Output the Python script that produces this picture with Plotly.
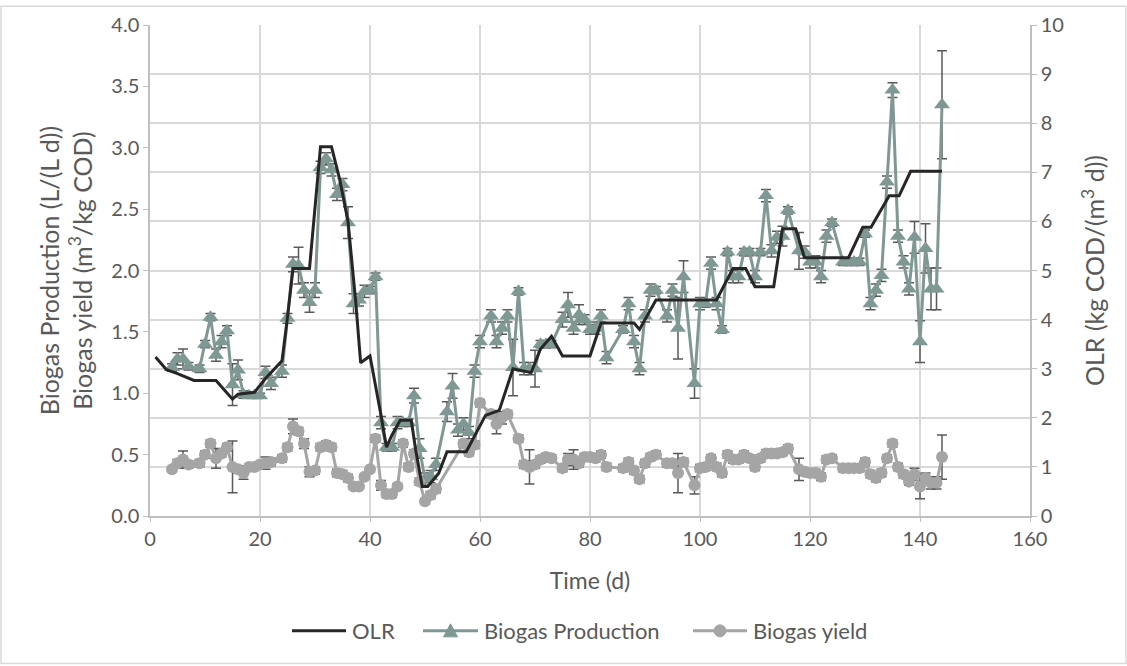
import plotly.graph_objects as go

# ---------------- data ----------------
olr_days = [1, 3, 5, 8, 12, 15, 16, 19, 21, 24, 25, 26, 29, 31, 33, 34.5, 36, 37.4, 38.3, 40,
            42, 43, 44, 45.5, 47.5, 48.3, 49.5, 50.5, 52.5, 54, 57.5, 61, 63.5, 66, 69.3, 71,
            73, 75, 80, 82, 88, 89, 92, 103, 106, 108.3, 110, 113.4, 115, 117.4, 119, 127,
            129.6, 131.1, 134.4, 136.2, 138.3, 144]
olr_vals = [3.24, 2.98, 2.90, 2.76, 2.76, 2.38, 2.48, 2.52, 2.80, 3.16, 4.05, 5.04, 5.04, 7.52,
            7.52, 6.85, 6.00, 4.37, 3.12, 3.26, 2.05, 1.40, 1.65, 1.95, 1.95, 1.35, 0.60, 0.60,
            0.87, 1.31, 1.31, 2.05, 2.15, 3.00, 2.92, 3.40, 3.66, 3.26, 3.26, 3.93, 3.93, 3.80,
            4.40, 4.40, 5.04, 5.04, 4.67, 4.67, 5.85, 5.85, 5.26, 5.26, 5.88, 5.88, 6.52, 6.52,
            7.02, 7.02]

prod_days = [4, 5, 6, 7, 9, 10, 11, 12, 13, 14, 15, 16, 17, 18, 19, 20, 21, 22, 24, 25, 26, 27,
             28, 29, 30, 31, 32, 33, 34, 35, 36, 37, 38, 39, 40, 41, 42, 43, 44, 45, 46, 47, 48,
             49, 50, 51, 52, 54, 55, 56, 57, 58, 59, 60, 62, 63, 64, 65, 66, 67, 68, 69, 70, 71,
             72, 73, 75, 76, 77, 78, 79, 80, 81, 82, 83, 86, 87, 88, 89, 90, 91, 92, 94, 95, 96,
             97, 99, 100, 101, 102, 103, 104, 105, 106, 107, 108, 109, 110, 111, 112, 113, 114,
             115, 116, 118, 119, 120, 121, 122, 123, 124, 126, 127, 128, 129, 130, 131, 132, 133,
             134, 135, 136, 137, 138, 139, 140, 141, 142, 143, 144]
prod_vals = [1.21, 1.28, 1.28, 1.22, 1.20, 1.40, 1.62, 1.31, 1.42, 1.51, 1.07, 1.19, 0.99, 0.98,
             0.98, 0.98, 1.17, 1.08, 1.18, 1.61, 2.05, 2.04, 1.84, 1.74, 1.84, 2.84, 2.91, 2.82,
             2.62, 2.70, 2.39, 1.73, 1.76, 1.83, 1.84, 1.95, 0.76, 0.56, 0.56, 0.76, 0.76, 0.76,
             0.98, 0.55, 0.30, 0.32, 0.42, 0.85, 1.06, 0.70, 0.75, 0.68, 1.18, 1.42, 1.63, 1.42,
             1.53, 1.63, 1.21, 1.83, 1.20, 1.20, 1.20, 1.40, 1.40, 1.40, 1.60, 1.72, 1.53, 1.64,
             1.60, 1.52, 1.53, 1.63, 1.29, 1.52, 1.73, 1.42, 1.20, 1.63, 1.84, 1.84, 1.63, 1.84,
             1.53, 1.95, 1.08, 1.73, 1.73, 2.06, 1.73, 1.52, 2.15, 1.95, 1.95, 2.15, 2.15, 1.95,
             2.15, 2.61, 2.16, 2.27, 2.28, 2.49, 2.16, 2.15, 2.07, 2.07, 1.95, 2.28, 2.39, 2.07,
             2.07, 2.07, 2.07, 2.30, 1.73, 1.84, 1.96, 2.72, 3.47, 2.28, 2.07, 1.85, 2.27, 1.42,
             2.18, 1.85, 1.85, 3.35]
prod_err = [0.03, 0.05, 0.08, 0.03, 0.03, 0.03, 0.03, 0.05, 0.05, 0.04, 0.17, 0.08, 0.03, 0.02,
            0.02, 0.02, 0.05, 0.05, 0.05, 0.04, 0.06, 0.15, 0.06, 0.08, 0.06, 0.05, 0.05, 0.05,
            0.05, 0.05, 0.13, 0.08, 0.05, 0.05, 0.03, 0.03, 0.05, 0.03, 0.03, 0.05, 0.03, 0.03,
            0.06, 0.08, 0.05, 0.05, 0.05, 0.08, 0.10, 0.05, 0.05, 0.05, 0.05, 0.05, 0.05, 0.05,
            0.05, 0.05, 0.23, 0.03, 0.05, 0.05, 0.15, 0.03, 0.03, 0.03, 0.06, 0.10, 0.05, 0.08,
            0.04, 0.04, 0.05, 0.05, 0.05, 0.03, 0.05, 0.05, 0.05, 0.05, 0.05, 0.03, 0.05, 0.05,
            0.25, 0.13, 0.12, 0.05, 0.03, 0.05, 0.05, 0.03, 0.03, 0.05, 0.05, 0.03, 0.03, 0.05,
            0.03, 0.05, 0.05, 0.05, 0.08, 0.03, 0.15, 0.05, 0.05, 0.05, 0.05, 0.05, 0.03, 0.03,
            0.03, 0.03, 0.03, 0.03, 0.05, 0.05, 0.05, 0.05, 0.06, 0.05, 0.05, 0.05, 0.13, 0.17,
            0.20, 0.17, 0.17, 0.44]

yield_days = [4, 5, 6, 7, 9, 10, 11, 12, 13, 14, 15, 16, 17, 18, 19, 20, 21, 22, 24, 25, 26, 27,
              28, 29, 30, 31, 32, 33, 34, 35, 36, 37, 38, 39, 40, 41, 42, 43, 44, 45, 46, 47, 48,
              49, 50, 51, 52, 57, 58, 59, 60, 62, 63, 64, 65, 67, 68, 69, 70, 71, 72, 73, 75, 76,
              77, 78, 79, 80, 81, 82, 83, 86, 87, 88, 89, 90, 91, 92, 94, 95, 96, 97, 99, 100, 101,
              102, 103, 104, 105, 106, 107, 108, 109, 110, 111, 112, 113, 114, 115, 116, 118, 119,
              120, 121, 122, 123, 124, 126, 127, 128, 129, 130, 131, 132, 133, 134, 135, 136, 137,
              138, 139, 140, 141, 142, 143, 144]
yield_vals = [0.38, 0.43, 0.46, 0.42, 0.43, 0.50, 0.59, 0.47, 0.51, 0.56, 0.40, 0.38, 0.35, 0.40,
              0.40, 0.42, 0.43, 0.44, 0.47, 0.56, 0.73, 0.69, 0.59, 0.36, 0.37, 0.56, 0.58, 0.56,
              0.35, 0.34, 0.31, 0.24, 0.24, 0.32, 0.38, 0.63, 0.25, 0.18, 0.18, 0.24, 0.59, 0.40,
              0.51, 0.28, 0.12, 0.17, 0.22, 0.59, 0.52, 0.58, 0.92, 0.83, 0.75, 0.80, 0.83, 0.63,
              0.42, 0.40, 0.42, 0.46, 0.48, 0.47, 0.39, 0.46, 0.46, 0.43, 0.48, 0.48, 0.47, 0.50,
              0.40, 0.39, 0.44, 0.37, 0.30, 0.43, 0.48, 0.50, 0.43, 0.43, 0.35, 0.44, 0.25, 0.39,
              0.40, 0.47, 0.40, 0.35, 0.50, 0.46, 0.46, 0.50, 0.47, 0.40, 0.47, 0.51, 0.51, 0.51,
              0.52, 0.55, 0.38, 0.36, 0.35, 0.35, 0.32, 0.46, 0.47, 0.39, 0.39, 0.39, 0.39, 0.44,
              0.34, 0.31, 0.35, 0.47, 0.59, 0.40, 0.34, 0.28, 0.34, 0.24, 0.31, 0.27, 0.27, 0.48]
yield_err = [0.02, 0.03, 0.07, 0.03, 0.03, 0.03, 0.03, 0.08, 0.03, 0.03, 0.21, 0.03, 0.05, 0.02,
             0.02, 0.02, 0.05, 0.03, 0.03, 0.03, 0.06, 0.03, 0.04, 0.04, 0.03, 0.03, 0.03, 0.03,
             0.03, 0.03, 0.03, 0.02, 0.02, 0.02, 0.02, 0.03, 0.04, 0.03, 0.03, 0.02, 0.03, 0.03,
             0.03, 0.03, 0.02, 0.03, 0.03, 0.03, 0.03, 0.03, 0.03, 0.03, 0.08, 0.05, 0.03, 0.03,
             0.03, 0.14, 0.03, 0.03, 0.03, 0.03, 0.03, 0.05, 0.08, 0.03, 0.03, 0.03, 0.03, 0.03,
             0.03, 0.03, 0.03, 0.03, 0.03, 0.03, 0.03, 0.03, 0.03, 0.03, 0.16, 0.03, 0.07, 0.03,
             0.03, 0.03, 0.03, 0.03, 0.03, 0.03, 0.03, 0.03, 0.03, 0.03, 0.03, 0.03, 0.03, 0.03,
             0.03, 0.03, 0.09, 0.03, 0.03, 0.03, 0.03, 0.03, 0.03, 0.03, 0.03, 0.03, 0.03, 0.03,
             0.03, 0.03, 0.03, 0.03, 0.03, 0.03, 0.03, 0.03, 0.05, 0.10, 0.04, 0.05, 0.05, 0.18]

series_names = ["OLR", "Biogas Production", "Biogas yield"]

# ---------------- styles ----------------
FONT = "Lato, Open Sans, sans-serif"
TXT = "#595959"
GRID = "#d9d9d9"
AX = "#bfbfbf"
C_OLR = "#262626"
C_PROD = "#7f9893"
C_YLD = "#a5a5a5"
C_ERR = "#595959"

fig = go.Figure()

fig.add_trace(go.Scatter(
    x=olr_days, y=olr_vals, name=series_names[0], yaxis="y2", mode="lines",
    line=dict(color=C_OLR, width=3), showlegend=False,
))
fig.add_trace(go.Scatter(
    x=prod_days, y=prod_vals, name=series_names[1], mode="lines+markers",
    line=dict(color=C_PROD, width=3),
    marker=dict(symbol="triangle-up", size=14, color=C_PROD),
    error_y=dict(type="data", array=prod_err, visible=True, color=C_ERR, thickness=1.5, width=5),
    showlegend=False,
))
fig.add_trace(go.Scatter(
    x=yield_days, y=yield_vals, name=series_names[2], mode="lines+markers",
    line=dict(color=C_YLD, width=3),
    marker=dict(symbol="circle", size=12, color=C_YLD),
    error_y=dict(type="data", array=yield_err, visible=True, color=C_ERR, thickness=1.5, width=5),
    showlegend=False,
))

L, R, T, B = 150, 97, 20, 150
W, H = 1127, 666
pw, ph = W - L - R, H - T - B


def px(x):
    return (x - L) / pw


def py(y):
    return (H - B - y) / ph


fig.update_layout(
    width=W, height=H,
    margin=dict(l=L, r=R, t=T, b=B),
    paper_bgcolor="white", plot_bgcolor="white",
    font=dict(family=FONT, color=TXT, size=20),
    xaxis=dict(
        range=[0, 160], dtick=20, tick0=0, showgrid=True, gridcolor=GRID, gridwidth=1.5,
        zeroline=False, showline=True, linecolor=AX, linewidth=1.5,
        ticks="outside", ticklen=4, tickcolor=AX,
        tickfont=dict(size=20, color=TXT),
        title=dict(text="Time (d)", font=dict(size=23, color=TXT), standoff=24),
    ),
    yaxis=dict(
        range=[0, 4], dtick=0.5, tickformat=".1f", showgrid=False, zeroline=False,
        showline=True, linecolor=AX, linewidth=1.5,
        ticks="outside", ticklen=5, tickcolor=AX,
        tickfont=dict(size=20, color=TXT),
        title=dict(text="Biogas Production (L/(L d))<br>Biogas yield (m<sup>3</sup>/kg COD)",
                   font=dict(size=25, color=TXT), standoff=12),
    ),
    yaxis2=dict(
        range=[0, 10], dtick=1, overlaying="y", side="right", showgrid=True,
        gridcolor=GRID, gridwidth=1.5, zeroline=False,
        showline=True, linecolor=AX, linewidth=1.5,
        ticks="outside", ticklen=5, tickcolor=AX,
        tickfont=dict(size=20, color=TXT),
        title=dict(text="OLR (kg COD/(m<sup>3</sup> d))", font=dict(size=25, color=TXT), standoff=24),
    ),
    showlegend=False,
)

# outer chart border
fig.add_shape(
    type="rect", xref="paper", yref="paper",
    x0=px(1), x1=px(W - 1), y0=py(H - 1), y1=py(1),
    line=dict(color=GRID, width=1.5), fillcolor="rgba(0,0,0,0)", layer="below",
)

# legend (drawn below the plot, as in the reference)
LEG_Y = 632
leg_items = [
    (292, 346, C_OLR, None, series_names[0]),
    (423, 478, C_PROD, "tri", series_names[1]),
    (693, 747, C_YLD, "circ", series_names[2]),
]
for x0, x1, col, mk, name in leg_items:
    fig.add_shape(type="line", xref="paper", yref="paper",
                  x0=px(x0), x1=px(x1), y0=py(LEG_Y), y1=py(LEG_Y),
                  line=dict(color=col, width=3))
    xc = px((x0 + x1) / 2)
    if mk == "tri":
        fig.add_shape(type="path", xref="paper", yref="paper",
                      xsizemode="pixel", ysizemode="pixel", xanchor=xc, yanchor=py(LEG_Y),
                      path="M -7 -6 L 7 -6 L 0 7 Z", fillcolor=col, line=dict(color=col, width=1))
    elif mk == "circ":
        fig.add_shape(type="circle", xref="paper", yref="paper",
                      xsizemode="pixel", ysizemode="pixel", xanchor=xc, yanchor=py(LEG_Y),
                      x0=-6, x1=6, y0=-6, y1=6, fillcolor=col, line=dict(color=col, width=1))
    fig.add_annotation(text=name, xref="paper", yref="paper", x=px(x1 + 4), y=py(LEG_Y),
                       xanchor="left", yanchor="middle", showarrow=False,
                       font=dict(size=22, color=TXT, family=FONT))

fig.write_html("out.html")
